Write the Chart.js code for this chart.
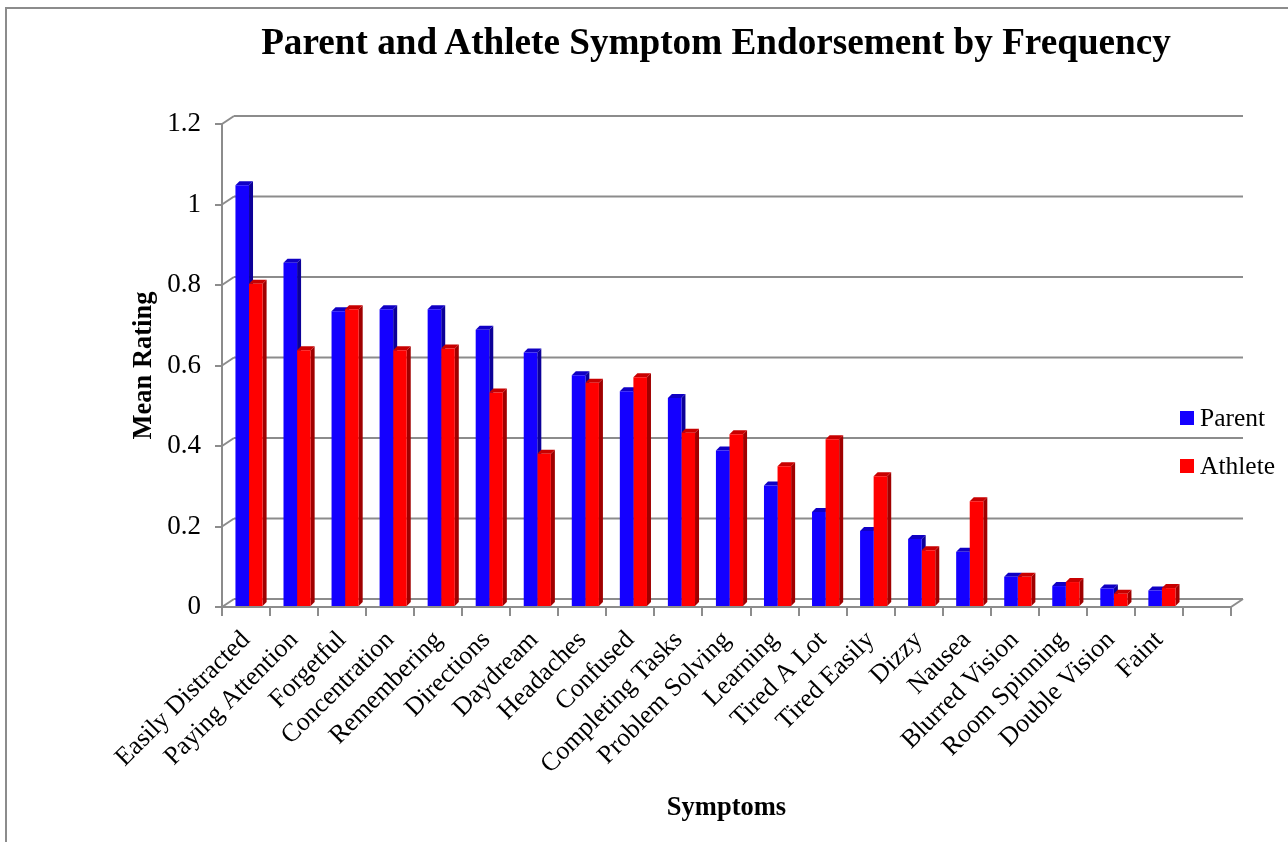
<!DOCTYPE html>
<html>
<head>
<meta charset="utf-8">
<script src="https://cdn.jsdelivr.net/npm/chart.js@4.4.0/dist/chart.umd.min.js"></script>
<style>
  html, body { margin: 0; padding: 0; background: #fff; }
  #wrap { position: relative; width: 1288px; height: 842px; overflow: hidden; }
  #frame { position: absolute; left: 5px; top: 7px; width: 1400px; height: 900px; border: 2px solid #8c8c8c; box-sizing: border-box; }
  #chart { position: absolute; left: 0; top: 0; }
  #title { position: absolute; left: 144px; width: 1144px; top: 20px; line-height: 37px; text-align: center;
           font: bold 37.2px 'Liberation Serif', 'Times New Roman', serif; color: #000; }
  #legend { position: absolute; left: 1180px; top: 394px; font: 25.5px 'Liberation Serif', 'Times New Roman', serif; color: #000; }
  .item { display: flex; align-items: center; height: 48px; }
  .sw { width: 14px; height: 14px; margin-right: 6px; }
</style>
</head>
<body>
<div id="wrap">
  <div id="frame"></div>
  <canvas id="chart" width="1288" height="842"></canvas>
  <div id="title">Parent and Athlete Symptom Endorsement by Frequency</div>
  <div id="legend"></div>
</div>
<script>
const categories = ['Easily Distracted', 'Paying Attention', 'Forgetful', 'Concentration', 'Remembering',
  'Directions', 'Daydream', 'Headaches', 'Confused', 'Completing Tasks', 'Problem Solving', 'Learning',
  'Tired A Lot', 'Tired Easily', 'Dizzy', 'Nausea', 'Blurred Vision', 'Room Spinning', 'Double Vision', 'Faint'];
const parent = [1.048, 0.855, 0.735, 0.74, 0.74, 0.689, 0.632, 0.576, 0.536, 0.519, 0.389, 0.302, 0.236, 0.189, 0.169, 0.137, 0.075, 0.052, 0.046, 0.041];
const athlete = [0.803, 0.638, 0.74, 0.638, 0.642, 0.533, 0.381, 0.557, 0.571, 0.433, 0.429, 0.35, 0.417, 0.325, 0.141, 0.263, 0.075, 0.062, 0.033, 0.047];
const yTicks = [0, 0.2, 0.4, 0.6, 0.8, 1, 1.2];

const GRID = '#8c8c8c';
const SERIF = "'Liberation Serif', 'Times New Roman', serif";
const series = [
  { label: 'Parent', data: parent, front: '#1400ff', side: '#0c0098', top: '#1000c4' },
  { label: 'Athlete', data: athlete, front: '#ff0000', side: '#a00000', top: '#c80000' }
];

// legend as plain text
const legendEl = document.getElementById('legend');
series.forEach(s => {
  const it = document.createElement('div');
  it.className = 'item';
  it.innerHTML = '<div class="sw" style="background:' + s.front + '"></div><span>' + s.label + '</span>';
  legendEl.appendChild(it);
});

const WALL = { dx: 12, dy: -8 };   // depth of the back wall
const BAR = { dx: 4, dy: -4 };     // depth of each column
const SHIFT = 3;

function line(ctx, x1, y1, x2, y2) {
  ctx.beginPath(); ctx.moveTo(x1, y1); ctx.lineTo(x2, y2); ctx.stroke();
}
function poly(ctx, pts, color) {
  ctx.fillStyle = color;
  ctx.beginPath();
  pts.forEach((p, i) => i ? ctx.lineTo(p[0], p[1]) : ctx.moveTo(p[0], p[1]));
  ctx.closePath(); ctx.fill();
}

const box3d = {
  id: 'box3d',
  beforeDatasetsDraw(chart) {
    const { ctx, chartArea: { left, right, bottom }, scales: { y } } = chart;
    ctx.save();
    ctx.strokeStyle = GRID;
    ctx.lineWidth = 2;
    yTicks.forEach(v => {
      const py = y.getPixelForValue(v);
      line(ctx, left, py, left + WALL.dx, py + WALL.dy);
      line(ctx, left + WALL.dx, py + WALL.dy, right + WALL.dx, py + WALL.dy);
    });
    line(ctx, right, bottom, right + WALL.dx, bottom + WALL.dy);
    ctx.restore();

    // side and top faces, drawn before the fronts
    ctx.save();
    ctx.translate(SHIFT, 0);
    categories.forEach((c, i) => {
      series.forEach((s, d) => {
        const bar = chart.getDatasetMeta(d).data[i];
        if (!bar) return;
        const { x, y: ty, base, width } = bar.getProps(['x', 'y', 'base', 'width'], true);
        const l = x - width / 2, r = x + width / 2;
        poly(ctx, [[r, ty], [r + BAR.dx, ty + BAR.dy], [r + BAR.dx, base + BAR.dy], [r, base]], s.side);
        poly(ctx, [[l, ty], [l + BAR.dx, ty + BAR.dy], [r + BAR.dx, ty + BAR.dy], [r, ty]], s.top);
      });
    });
  },
  afterDatasetsDraw(chart) {
    chart.ctx.restore();
  }
};

new Chart(document.getElementById('chart'), {
  type: 'bar',
  data: {
    labels: categories.concat(['']),
    datasets: series.map(s => ({
      label: s.label,
      data: s.data,
      backgroundColor: s.front,
      borderWidth: 0,
      categoryPercentage: 0.565,
      barPercentage: 1.0
    }))
  },
  options: {
    responsive: false,
    animation: false,
    layout: { padding: { top: 124, right: 57, bottom: 0, left: 0 } },
    plugins: {
      legend: { display: false },
      tooltip: { enabled: false }
    },
    scales: {
      x: {
        ticks: { font: { family: SERIF, size: 26 }, color: '#000', minRotation: 45, maxRotation: 45, autoSkip: false, padding: 9 },
        grid: { drawOnChartArea: false, tickLength: 9, color: GRID, lineWidth: 2, offset: true },
        border: { color: GRID, width: 2 },
        title: { display: true, text: 'Symptoms', color: '#000', font: { family: SERIF, size: 26.5, weight: 'bold' }, padding: { top: 0, bottom: 18 } },
        afterFit: s => { s.height = 842 - 607; }
      },
      y: {
        min: 0,
        max: 1.2,
        ticks: { stepSize: 0.2, font: { family: SERIF, size: 27 }, color: '#000', padding: 14, callback: v => String(Math.round(v * 10) / 10) },
        grid: { drawOnChartArea: false, tickLength: 7, color: GRID, lineWidth: 2 },
        border: { color: GRID, width: 2 },
        title: { display: true, text: 'Mean Rating', color: '#000', font: { family: SERIF, size: 26.5, weight: 'bold' }, padding: { top: 128, bottom: 0 } },
        afterFit: s => { s.width = 222; }
      }
    }
  },
  plugins: [box3d]
});
</script>
</body>
</html>
